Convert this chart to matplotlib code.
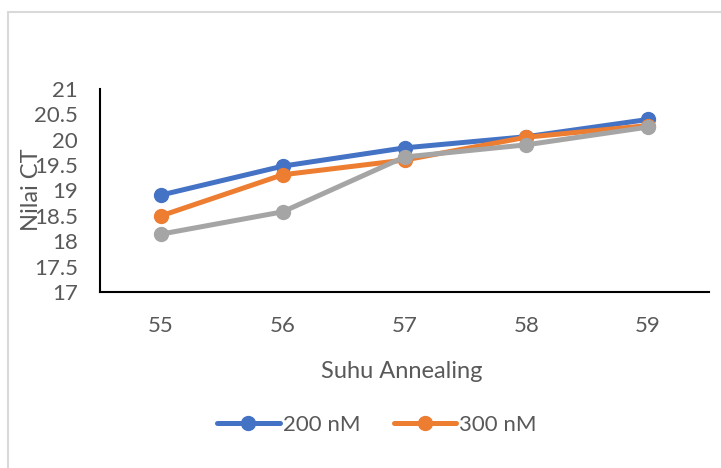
import matplotlib.pyplot as plt
from matplotlib.patches import Rectangle

suhu = [55, 56, 57, 58, 59]
ct_200 = [18.91, 19.48, 19.84, 20.06, 20.40]
ct_300 = [18.50, 19.31, 19.60, 20.05, 20.28]
ct_400 = [18.14, 18.58, 19.66, 19.90, 20.25]
yticks = [17, 17.5, 18, 18.5, 19, 19.5, 20, 20.5, 21]

plt.rcParams["font.family"] = ["Lato", "DejaVu Sans"]
text_color = "#595959"

fig = plt.figure(figsize=(7.21, 4.68), dpi=100)
fig.patches.append(Rectangle((8 / 721, -0.1), 1.2, 1.1 - 12 / 468,
                             transform=fig.transFigure, fill=False,
                             edgecolor="#d9d9d9", linewidth=1.5))
ax = fig.add_axes([100 / 721, 176 / 468, 609 / 721, 203 / 468])

x = list(range(len(suhu)))
style = dict(linewidth=3.6, marker="o", markersize=10, solid_capstyle="round")
l200, = ax.plot(x, ct_200, color="#4472c4", label="200 nM", **style)
l300, = ax.plot(x, ct_300, color="#ed7d31", label="300 nM", **style)
ax.plot(x, ct_400, color="#a5a5a5", **style)

ax.set_xlim(-0.5, len(suhu) - 0.5)
ax.set_ylim(17, 21)
ax.set_yticks(yticks)
ax.set_yticklabels([f"{v:g}" for v in yticks])
ax.set_xticks(x)
ax.set_xticklabels([str(s) for s in suhu])
ax.tick_params(length=0, labelsize=16, colors=text_color)
ax.tick_params(axis="y", pad=16)
ax.tick_params(axis="x", pad=17)
for side in ("top", "right"):
    ax.spines[side].set_visible(False)
for side in ("left", "bottom"):
    ax.spines[side].set_linewidth(1.5)
    ax.spines[side].set_color("black")

fig.text(32 / 721, 1 - 190 / 468, "Nilai CT", rotation=90, ha="center",
         va="center", fontsize=17, color=text_color)
fig.text(402 / 721, 1 - 372 / 468, "Suhu Annealing", ha="center",
         va="center", fontsize=17, color=text_color)

fig.legend(handles=[l200, l300], loc="center", ncol=2,
           bbox_to_anchor=(377 / 721, 1 - 425 / 468), frameon=False,
           fontsize=16, handlelength=2.8, columnspacing=1.5,
           handletextpad=0.15, labelcolor=text_color)

fig.savefig("out.png", dpi=100)
